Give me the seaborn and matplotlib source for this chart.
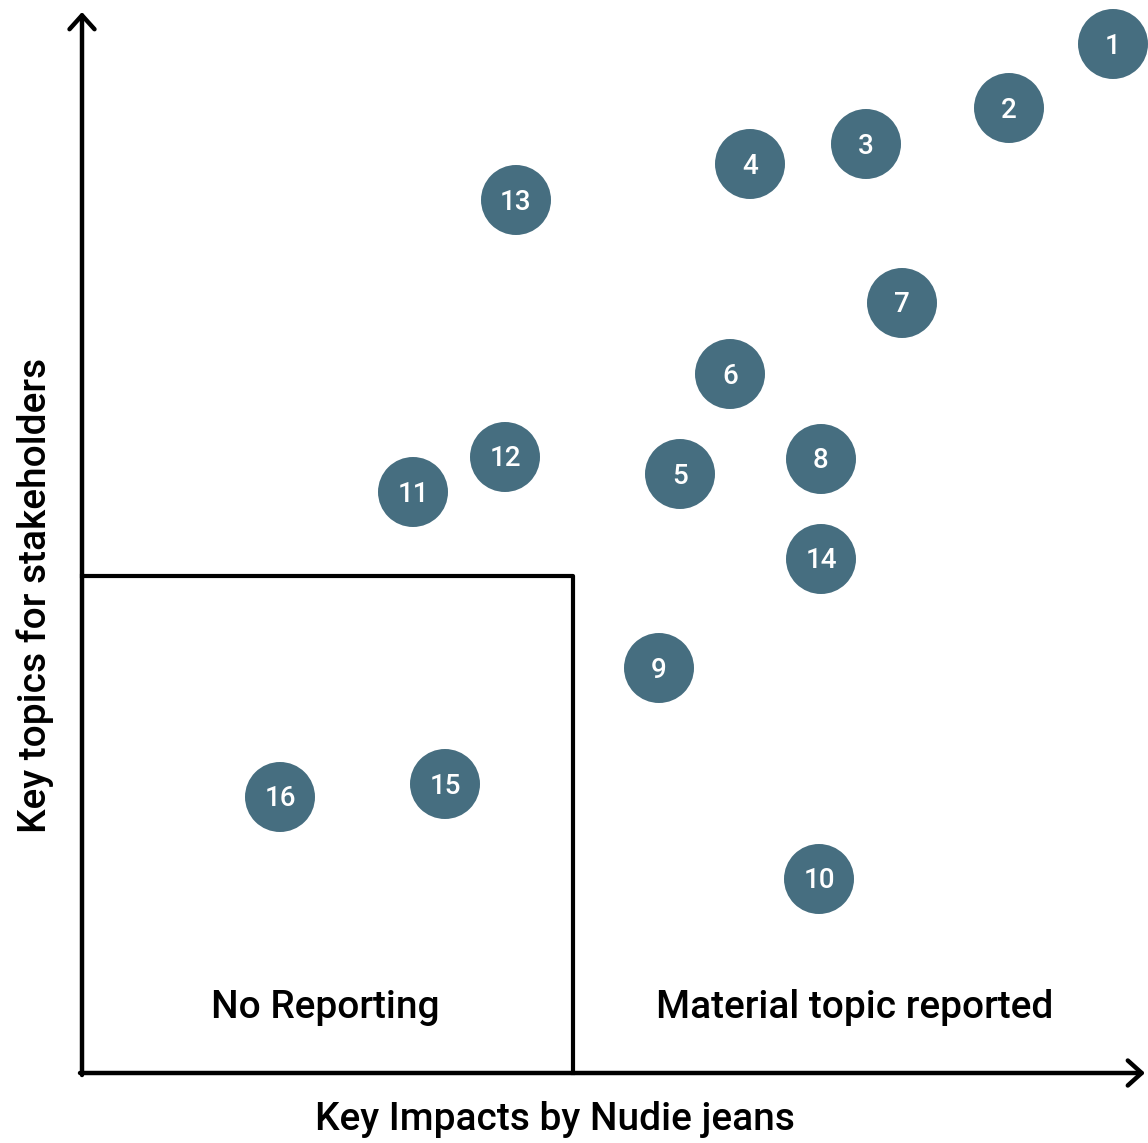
import matplotlib
matplotlib.use("Agg")
import matplotlib.pyplot as plt
import seaborn as sns
import pandas as pd

# topic positions (impact on x, stakeholder importance on y)
topics = list(range(1, 17))
impact = [1031, 927, 784, 668, 598, 648, 820, 739, 577, 737, 331, 423, 434, 739, 363, 198]
stakeholder = [1029, 965, 929, 909, 599, 699, 770, 614, 405, 194, 581, 616, 873, 514, 289, 276]

box_w = 491
box_h = 497
x_max = 1063
y_max = 1061

df = pd.DataFrame({"topic": topics, "impact": impact, "stakeholder": stakeholder})

sns.set_style("white")
plt.rcParams['font.family'] = ['Roboto', 'DejaVu Sans']

fig = plt.figure(figsize=(11.48, 11.43), dpi=100)
ax = fig.add_axes([0, 0, 1, 1])
ax.set_xlim(-82, 1066)
ax.set_ylim(-70, 1073)
ax.axis("off")

col = "#466e80"
sns.scatterplot(data=df, x="impact", y="stakeholder", s=2540, color=col,
                edgecolor="none", legend=False, ax=ax, zorder=3)
for _, r in df.iterrows():
    ax.text(r["impact"], r["stakeholder"] - 2, str(r["topic"]), color="white",
            fontsize=20, fontweight="medium", ha="center", va="center", zorder=4)

# axes arrows
arrow = dict(arrowstyle="->,head_length=1.0,head_width=0.9", lw=3.2, color="black",
             shrinkA=0, shrinkB=0)
ax.annotate("", xy=(x_max, 0), xytext=(-2, 0), arrowprops=arrow)
ax.annotate("", xy=(0, y_max), xytext=(0, -2), arrowprops=arrow)

# "no reporting" box
ax.plot([0, box_w, box_w], [box_h, box_h, 0], color="black", lw=3, solid_capstyle="projecting")

kw = dict(fontsize=28, fontweight="medium", ha="center", va="center", color="black")
ax.text(box_w / 2 - 2, 66, "No Reporting", **kw)
ax.text(773, 66, "Material topic reported", **kw)
ax.text(473, -47, "Key Impacts by Nudie jeans", **kw)
ax.text(-47, 478, "Key topics for stakeholders", rotation=90, **kw)

fig.savefig("out.png", dpi=100)
